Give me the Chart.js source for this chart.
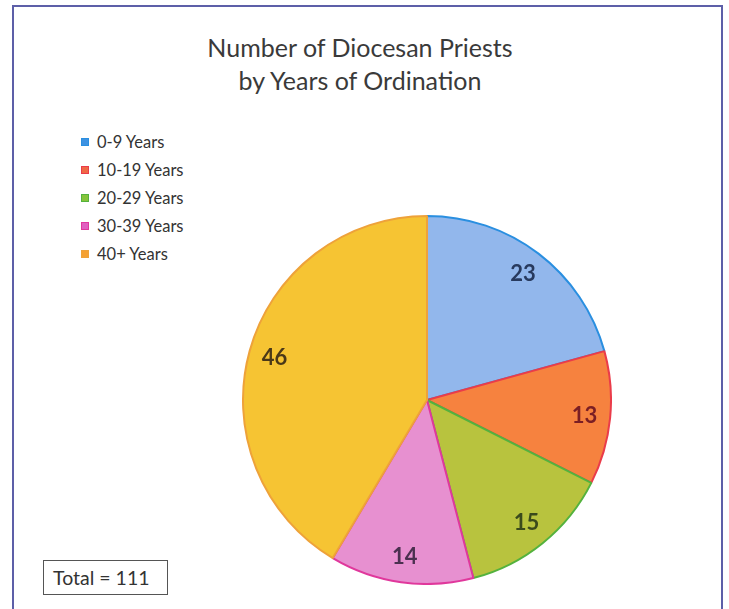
<!DOCTYPE html>
<html>
<head>
<meta charset="utf-8">
<title>Diocesan Priests by Years of Ordination</title>
<script src="https://cdn.jsdelivr.net/npm/chart.js"></script>
<style>
  html, body { margin: 0; padding: 0; background: #fff; }
  body { width: 729px; height: 609px; position: relative; overflow: hidden; font-family: Lato, "Open Sans", sans-serif; color: #333; }
  .frame { position: absolute; left: 12px; top: 5px; width: 711px; height: 606px; border: 2px solid #5d5fa8; box-sizing: border-box; }
  .title { position: absolute; left: 0; top: 31px; width: 720px; text-align: center; font-size: 25px; line-height: 33px; color: #3a3a3a; }
  .legend { position: absolute; left: 81px; top: 128px; margin: 0; padding: 0; list-style: none; font-size: 16.5px; line-height: 28px; color: #333; }
  .legend li { display: flex; align-items: center; }
  .legend .swatch { width: 6px; height: 6px; border: 1px solid; margin-right: 8px; }
  .pie-wrap { position: absolute; left: 242px; top: 215px; width: 370px; height: 370px; }
  .total { position: absolute; left: 43px; top: 560px; width: 125px; height: 35px; border: 1px solid #555; box-sizing: border-box; font-size: 19.5px; line-height: 33px; padding-left: 9px; color: #333; }
</style>
</head>
<body>
<div class="frame"></div>
<div class="title">Number of Diocesan Priests<br>by Years of Ordination</div>
<ul class="legend" id="legend"></ul>
<div class="pie-wrap"><canvas id="pie"></canvas></div>
<div class="total" id="total"></div>

<script>
const labels = ["0-9 Years", "10-19 Years", "20-29 Years", "30-39 Years", "40+ Years"];
const values = [23, 13, 15, 14, 46];

const fillColors = ["#92b7ec", "#f6823f", "#b8c33e", "#e790d0", "#f6c433"];
const edgeColors = ["#2a8fe0", "#ea3c4a", "#54b23e", "#e0389c", "#eea23a"];
const swatchColors = ["#3d92e2", "#f06846", "#86c43a", "#e05fc0", "#f5a132"];
const labelColors = ["#283a5e", "#7a1e24", "#3a4a1c", "#4b3050", "#4a3818"];

// html legend + total box
const legendEl = document.getElementById("legend");
labels.forEach((lbl, i) => {
  const li = document.createElement("li");
  const sw = document.createElement("span");
  sw.className = "swatch";
  sw.style.background = swatchColors[i];
  sw.style.borderColor = edgeColors[i];
  li.appendChild(sw);
  li.appendChild(document.createTextNode(lbl));
  legendEl.appendChild(li);
});
const total = values.reduce((a, b) => a + b, 0);
document.getElementById("total").textContent = "Total = " + total;

// value labels sitting near the rim of each slice
const sliceLabels = {
  id: "sliceLabels",
  afterDatasetsDraw(chart) {
    const { ctx } = chart;
    const meta = chart.getDatasetMeta(0);
    ctx.save();
    ctx.font = "bold 22px Lato";
    ctx.textAlign = "center";
    ctx.textBaseline = "middle";
    meta.data.forEach((arc, i) => {
      const p = arc.getProps(["x", "y", "startAngle", "endAngle", "outerRadius"], true);
      const mid = (p.startAngle + p.endAngle) / 2;
      const r = p.outerRadius * 0.86;
      ctx.fillStyle = labelColors[i];
      ctx.fillText(String(values[i]), p.x + Math.cos(mid) * r, p.y + Math.sin(mid) * r);
    });
    ctx.restore();
  },
};

new Chart(document.getElementById("pie"), {
  type: "pie",
  data: {
    labels: labels,
    datasets: [
      {
        data: values,
        backgroundColor: fillColors,
        borderColor: edgeColors,
        borderWidth: 2,
      },
    ],
  },
  options: {
    responsive: true,
    maintainAspectRatio: false,
    animation: false,
    layout: { padding: 0 },
    plugins: {
      legend: { display: false },
      tooltip: { enabled: false },
    },
  },
  plugins: [sliceLabels],
});
</script>
</body>
</html>
